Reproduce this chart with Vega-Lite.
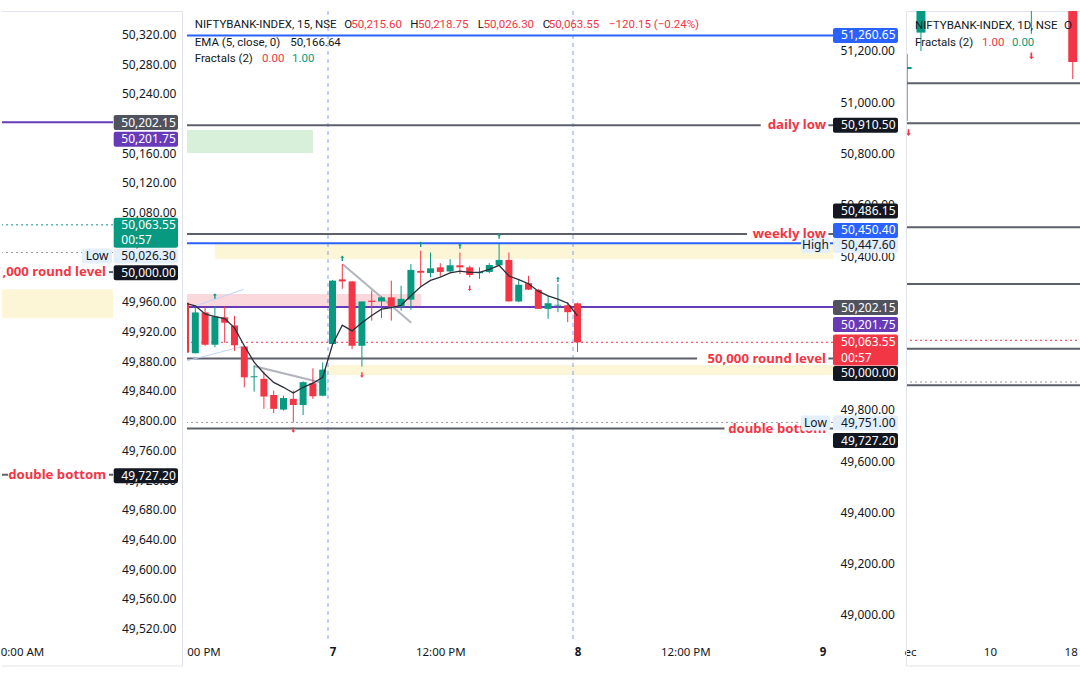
{
"$schema": "https://vega.github.io/schema/vega-lite/v6.json",
"background": "white",
"padding": {"left": 0, "top": 10, "right": 0, "bottom": 0},
"bounds": "flush",
"spacing": 74,
"config": {"view": {"stroke": null}, "font": "Noto Sans",
  "axis": {"grid": false, "ticks": false, "domain": false, "labelColor": "#131722", "labelFont": "Noto Sans", "labelFontSize": 12, "labelOverlap": false, "labelFlush": false}},
"resolve": {"scale": {"x": "independent", "y": "independent", "color": "independent"}},
"datasets": {
"candles": [
{"i":0,"o":50218,"h":50225,"l":50020,"c":50023},
{"i":1,"o":50021,"h":50200,"l":50020,"c":50180},
{"i":2,"o":50180,"h":50200,"l":50050,"c":50054},
{"i":3,"o":50054,"h":50205,"l":50044,"c":50164},
{"i":4,"o":50161,"h":50205,"l":50062,"c":50140},
{"i":5,"o":50129,"h":50167,"l":50030,"c":50052},
{"i":6,"o":50047,"h":50050,"l":49888,"c":49927},
{"i":7,"o":49927,"h":49972,"l":49871,"c":49931},
{"i":8,"o":49921,"h":49950,"l":49804,"c":49852},
{"i":9,"o":49858,"h":49875,"l":49787,"c":49804},
{"i":10,"o":49801,"h":49856,"l":49797,"c":49846},
{"i":11,"o":49843,"h":49875,"l":49751,"c":49819},
{"i":12,"o":49819,"h":49911,"l":49780,"c":49908},
{"i":13,"o":49904,"h":49962,"l":49843,"c":49853},
{"i":14,"o":49855,"h":49985,"l":49853,"c":49957},
{"i":15,"o":50057,"h":50307,"l":50055,"c":50304},
{"i":16,"o":50309,"h":50369,"l":50272,"c":50301},
{"i":17,"o":50301,"h":50303,"l":50037,"c":50050},
{"i":18,"o":50050,"h":50223,"l":49969,"c":50223},
{"i":19,"o":50226,"h":50265,"l":50148,"c":50221},
{"i":20,"o":50223,"h":50242,"l":50158,"c":50239},
{"i":21,"o":50239,"h":50304,"l":50148,"c":50203},
{"i":22,"o":50203,"h":50284,"l":50187,"c":50233},
{"i":23,"o":50230,"h":50369,"l":50191,"c":50346},
{"i":24,"o":50342,"h":50421,"l":50278,"c":50335},
{"i":25,"o":50334,"h":50414,"l":50317,"c":50352},
{"i":26,"o":50356,"h":50372,"l":50320,"c":50338},
{"i":27,"o":50340,"h":50388,"l":50336,"c":50364},
{"i":28,"o":50364,"h":50414,"l":50330,"c":50356},
{"i":29,"o":50356,"h":50362,"l":50317,"c":50326},
{"i":30,"o":50333,"h":50356,"l":50311,"c":50338},
{"i":31,"o":50338,"h":50372,"l":50333,"c":50365},
{"i":32,"o":50364,"h":50447.6,"l":50362,"c":50385},
{"i":33,"o":50385,"h":50414,"l":50223,"c":50223},
{"i":34,"o":50223,"h":50311,"l":50220,"c":50288},
{"i":35,"o":50294,"h":50323,"l":50268,"c":50269},
{"i":36,"o":50268,"h":50272,"l":50194,"c":50194},
{"i":37,"o":50194,"h":50245,"l":50155,"c":50216},
{"i":38,"o":50207,"h":50291,"l":50181,"c":50210},
{"i":39,"o":50208,"h":50220,"l":50142,"c":50181},
{"i":40,"o":50215.6,"h":50218.75,"l":50026.3,"c":50063.55}
],
"ema": [
{"i":-1,"v":50226},{"i":0,"v":50216},{"i":1,"v":50206},{"i":2,"v":50174},{"i":3,"v":50164},{"i":4,"v":50156},{"i":5,"v":50120},{"i":6,"v":50050},{"i":7,"v":49986},{"i":8,"v":49943},{"i":9,"v":49907},{"i":10,"v":49888},{"i":11,"v":49866},{"i":12,"v":49888},{"i":13,"v":49904},{"i":14,"v":49927},{"i":15,"v":50055},{"i":16,"v":50130},{"i":17,"v":50108},{"i":18,"v":50140},{"i":19,"v":50168},{"i":20,"v":50193},{"i":21,"v":50199},{"i":22,"v":50208},{"i":23,"v":50245},{"i":24,"v":50280},{"i":25,"v":50305},{"i":26,"v":50318},{"i":27,"v":50334},{"i":28,"v":50341},{"i":29,"v":50336},{"i":30,"v":50336},{"i":31,"v":50348},{"i":32,"v":50364},{"i":33,"v":50322},{"i":34,"v":50308},{"i":35,"v":50292},{"i":36,"v":50263},{"i":37,"v":50245},{"i":38,"v":50232},{"i":39,"v":50216},{"i":40,"v":50167}
],
"midZones": [
{"x1":0,"x2":13.0,"v1":50802,"v2":50891.7,"kind":"green"},
{"x1":3.0,"x2":80,"v1":50388.5,"v2":50447,"kind":"yellow"},
{"x1":0,"x2":24.06,"v1":50204.5,"v2":50252.4,"kind":"pink"},
{"x1":14.44,"x2":80,"v1":49936,"v2":49975,"kind":"yellow"}
],
"midLines": [
{"v":51260.65,"x1":0,"x2":80,"kind":"blue"},
{"v":50910.5,"x1":0,"x2":58.7,"kind":"gray"},
{"v":50910.5,"x1":65.6,"x2":80,"kind":"gray"},
{"v":50486.15,"x1":0,"x2":57.3,"kind":"gray"},
{"v":50486.15,"x1":65.6,"x2":80,"kind":"gray"},
{"v":50450.4,"x1":0,"x2":80,"kind":"blue"},
{"v":50201.75,"x1":0,"x2":80,"kind":"purple"},
{"v":50000,"x1":0,"x2":52.2,"kind":"gray"},
{"v":50000,"x1":65.6,"x2":80,"kind":"gray"},
{"v":49727.2,"x1":0,"x2":55.0,"kind":"gray"},
{"v":49727.2,"x1":65.6,"x2":80,"kind":"gray"}
],
"midDots": [{"v":50063.55,"kind":"red"},{"v":49751,"kind":"gray"}],
"midTrend": [
{"x1":16.04,"v1":50367.8,"x2":23.04,"v2":50140,"kind":"gray"},
{"x1":6.96,"v1":49971,"x2":13.93,"v2":49906,"kind":"gray"},
{"x1":0.97,"v1":50205,"x2":5.94,"v2":50270,"kind":"blue"},
{"x1":0.0,"v1":49990,"x2":5.94,"v2":50049,"kind":"blue"}
],
"midSessions": [{"i":14.54},{"i":39.54}],
"midMarks": [
{"i":3,"v":50244,"dir":"up"},{"i":16,"v":50391,"dir":"up"},{"i":18,"v":49936,"dir":"dn"},{"i":24,"v":50446,"dir":"up"},{"i":28,"v":50439,"dir":"up"},{"i":29,"v":50274,"dir":"dn"},{"i":32,"v":50478,"dir":"up"},{"i":11,"v":49721.5,"dir":"dn"},{"i":38,"v":50309,"dir":"up"}
],
"midNotes": [{"t":"daily low","v":50910.5},{"t":"weekly low","v":50486.15},{"t":"50,000 round level","v":50000},{"t":"double bottom","v":49727.2}],
"midHdr": [
{"t":"NIFTYBANK-INDEX, 15, NSE","x":0.94,"v":51301.3,"tone":"dark"},
{"t":"O","x":16.2,"v":51301.3,"tone":"dark"},
{"t":"50,215.60","x":16.92,"v":51301.3,"tone":"red"},
{"t":"H","x":22.94,"v":51301.3,"tone":"dark"},
{"t":"50,218.75","x":23.72,"v":51301.3,"tone":"red"},
{"t":"L","x":29.82,"v":51301.3,"tone":"dark"},
{"t":"50,026.30","x":30.41,"v":51301.3,"tone":"red"},
{"t":"C","x":36.45,"v":51301.3,"tone":"dark"},
{"t":"50,063.55","x":37.06,"v":51301.3,"tone":"red"},
{"t":"−120.15 (−0.24%)","x":43.21,"v":51301.3,"tone":"red"},
{"t":"EMA (5, close, 0)","x":0.94,"v":51229.9,"tone":"dark"},
{"t":"50,166.64","x":10.69,"v":51229.9,"tone":"dark"},
{"t":"Fractals (2)","x":0.94,"v":51169.8,"tone":"dark"},
{"t":"0.00","x":7.81,"v":51169.8,"tone":"red"},
{"t":"1.00","x":10.87,"v":51169.8,"tone":"green"}
],
"midBoxes": [{"t":"High","pos":50441.2},{"t":"Low","pos":49748.8}],
"midTags": [
{"label":"51,260.65","pos":51260.65,"kind":"blue"},
{"label":"50,910.50","pos":50910.5,"kind":"dark"},
{"label":"50,486.15","pos":50575.8,"kind":"dark"},
{"label":"50,450.40","pos":50499.7,"kind":"blue"},
{"label":"50,447.60","pos":50441.2,"kind":"light"},
{"label":"50,202.15","pos":50199.3,"kind":"gray"},
{"label":"50,201.75","pos":50133.0,"kind":"purple"},
{"label":"50,000.00","pos":49941.9,"kind":"dark"},
{"label":"49,751.00","pos":49748.8,"kind":"light"},
{"label":"49,727.20","pos":49680.5,"kind":"dark"}
],
"midBig": [{"pos":50033.5}],
"midBigT": [{"t":"50,063.55","pos":50064.7},{"t":"00:57","pos":50002.3}],
"leftZones": [{"x1":0,"x2":111,"v1":49938,"v2":49977,"kind":"yellow"}],
"leftLines": [
{"v":50201.75,"x1":0,"x2":111,"kind":"purple"},
{"v":50000,"x1":107,"x2":111,"kind":"gray"},
{"v":49727.2,"x1":0,"x2":6,"kind":"gray"},
{"v":49727.2,"x1":107,"x2":111,"kind":"gray"}
],
"leftDots": [{"v":50063.55,"kind":"green"},{"v":50026.3,"kind":"gray"}],
"leftNotes": [{"t":"50,000 round level","v":50000},{"t":"double bottom","v":49727.2}],
"leftBoxes": [{"t":"Low","pos":50021.6}],
"leftTags": [
{"label":"50,202.15","pos":50201.3,"kind":"gray"},
{"label":"50,201.75","pos":50178.8,"kind":"purple"},
{"label":"50,026.30","pos":50021.6,"kind":"light"},
{"label":"50,000.00","pos":49999.1,"kind":"dark"},
{"label":"49,727.20","pos":49725.7,"kind":"dark"}
],
"leftBig": [{"pos":50053}],
"leftBigT": [{"t":"50,063.55","pos":50063.3},{"t":"00:57","pos":50043.8}],
"leftFrame": [
{"x1":0,"x2":180.5,"v1":50350.7,"v2":50350.7},
{"x1":180.5,"x2":180.5,"v1":50350.7,"v2":49469.7},
{"x1":0,"x2":180.5,"v1":49469.7,"v2":49469.7}
],
"rightLines": [{"v":51990},{"v":51690},{"v":50910.5},{"v":50486.15},{"v":50000},{"v":49727.2}],
"rightDots": [{"v":50063.55,"kind":"red"},{"v":49751,"kind":"gray"}],
"rightCandles": [
{"i":-6,"o":52097,"h":52210,"l":51708,"c":52112},
{"i":-5,"o":52370,"h":52790,"l":52232,"c":52695},
{"i":3,"o":52900,"h":53650,"l":52360,"c":53580},
{"i":6,"o":52800,"h":52900,"l":52022,"c":52150}
],
"rightMarks": [{"i":3,"v":52195},{"i":-5.9,"v":51620}],
"rightHdr": [
{"t":"NIFTYBANK-INDEX, 1D, NSE","x":-5.43,"v":52419.6,"tone":"dark"},
{"t":"O","x":5.36,"v":52419.6,"tone":"dark"},
{"t":"Fractals (2)","x":-5.43,"v":52292,"tone":"dark"},
{"t":"1.00","x":-0.58,"v":52292,"tone":"red"},
{"t":"0.00","x":1.59,"v":52292,"tone":"green"}
],
"rightFrame": [
{"x1":-6.05,"x2":6.67,"v1":52528.3,"v2":52528.3},
{"x1":-6.05,"x2":-6.05,"v1":52528.3,"v2":47622.4},
{"x1":-6.05,"x2":6.67,"v1":47622.4,"v2":47622.4}
]
},
"hconcat": [
{
 "width": 111, "height": 630,
 "resolve": {"scale": {"color": "independent"}},
 "layer": [
  {"data": {"name": "leftZones"}, "mark": {"type": "rect", "clip": true},
   "encoding": {
    "x": {"field": "x1", "type": "quantitative", "title": null, "scale": {"domain": [0, 111], "nice": false, "zero": false, "padding": 0},
          "axis": {"title": null, "values": [20], "labelExpr": "'0:00 AM'", "labelPadding": 5, "labelFontSize": 11.5, "labelOverlap": false}},
    "x2": {"field": "x2"},
    "y": {"field": "v1", "type": "quantitative", "title": null, "scale": {"domain": [49503.4, 50351.4], "nice": false, "zero": false, "padding": 0},
          "axis": {"title": null, "orient": "right", "format": ",.2f", "labelPadding": 8.5, "labelOverlap": false, "tickCount": 50,
                   "values": [49520,49560,49600,49640,49680,49720,49760,49800,49840,49880,49920,49960,50000,50040,50080,50120,50160,50200,50240,50280,50320]}},
    "y2": {"field": "v2"},
    "color": {"field": "kind", "type": "nominal", "scale": {"domain": ["yellow"], "range": ["#fdf6d6"]}, "legend": null}
   }},
  {"data": {"name": "leftFrame"}, "mark": {"type": "rule", "clip": false, "color": "#e0e3eb", "strokeWidth": 1},
   "encoding": {"x": {"field": "x1", "type": "quantitative"}, "x2": {"field": "x2"}, "y": {"field": "v1", "type": "quantitative"}, "y2": {"field": "v2"}}},
  {"data": {"name": "leftDots"}, "mark": {"type": "rule", "clip": true, "strokeDash": [2, 3], "strokeWidth": 1},
   "encoding": {"y": {"field": "v", "type": "quantitative"},
    "color": {"field": "kind", "type": "nominal", "scale": {"domain": ["green", "gray"], "range": ["#089981", "#9598a1"]}, "legend": null}}},
  {"data": {"name": "leftLines"}, "mark": {"type": "rule", "clip": true, "strokeWidth": 2},
   "encoding": {"x": {"field": "x1", "type": "quantitative"}, "x2": {"field": "x2"}, "y": {"field": "v", "type": "quantitative"},
    "color": {"field": "kind", "type": "nominal", "scale": {"domain": ["gray", "purple"], "range": ["#5d606b", "#673ab7"]}, "legend": null}}},
  {"data": {"name": "leftNotes"}, "mark": {"type": "text", "clip": true, "align": "right", "baseline": "middle", "fontSize": 13.2, "fontWeight": "bold", "color": "#f23645"},
   "encoding": {"x": {"datum": 104, "type": "quantitative"}, "y": {"field": "v", "type": "quantitative"}, "text": {"field": "t"}}},
  {"data": {"name": "leftBoxes"}, "mark": {"type": "bar", "orient": "horizontal", "size": 15, "clip": false, "color": "#e3effd", "cornerRadius": 2},
   "encoding": {"x": {"datum": 80, "type": "quantitative"}, "x2": {"datum": 110}, "y": {"field": "pos", "type": "quantitative"}}},
  {"data": {"name": "leftBoxes"}, "mark": {"type": "text", "clip": false, "align": "center", "baseline": "middle", "fontSize": 12, "color": "#131722"},
   "encoding": {"x": {"datum": 95, "type": "quantitative"}, "y": {"field": "pos", "type": "quantitative"}, "text": {"field": "t"}}},
  {"data": {"name": "leftTags"}, "mark": {"type": "bar", "orient": "horizontal", "size": 15, "clip": false, "cornerRadius": 2},
   "encoding": {"x": {"datum": 111.7, "type": "quantitative"}, "x2": {"datum": 176}, "y": {"field": "pos", "type": "quantitative"},
    "color": {"field": "kind", "type": "nominal", "scale": {"domain": ["blue","dark","gray","purple","light","red","green"], "range": ["#2962ff","#131722","#50535e","#673ab7","#e3effd","#f23645","#089981"]}, "legend": null}}},
  {"data": {"name": "leftTags"}, "mark": {"type": "text", "clip": false, "align": "left", "baseline": "middle", "fontSize": 12},
   "encoding": {"x": {"datum": 119.3, "type": "quantitative"}, "y": {"field": "pos", "type": "quantitative"}, "text": {"field": "label"},
    "color": {"condition": {"test": "datum.kind == 'light'", "value": "#131722"}, "value": "#ffffff"}}},
  {"data": {"name": "leftBig"}, "mark": {"type": "bar", "orient": "horizontal", "size": 30, "clip": false, "cornerRadius": 2, "color": "#089981"},
   "encoding": {"x": {"datum": 111.7, "type": "quantitative"}, "x2": {"datum": 176}, "y": {"field": "pos", "type": "quantitative"}}},
  {"data": {"name": "leftBigT"}, "mark": {"type": "text", "clip": false, "align": "left", "baseline": "middle", "fontSize": 12, "color": "#ffffff"},
   "encoding": {"x": {"datum": 119.3, "type": "quantitative"}, "y": {"field": "pos", "type": "quantitative"}, "text": {"field": "t"}}}
 ]
},
{
 "width": 646, "height": 630,
 "resolve": {"scale": {"color": "independent", "shape": "independent", "strokeWidth": "independent"}},
 "layer": [
  {"data": {"name": "midZones"}, "mark": {"type": "rect", "clip": true},
   "encoding": {
    "x": {"field": "x1", "type": "quantitative", "title": null, "scale": {"domain": [0.153, 66.07], "nice": false, "zero": false, "padding": 0},
          "axis": {"title": null, "values": [1.84, 15, 26, 40, 51, 65], "labelPadding": 5, "labelFontSize": 11.5, "labelOverlap": false, "tickCount": 50,
                   "labelExpr": "datum.value < 2 ? '00 PM' : datum.value == 15 ? '7' : datum.value == 40 ? '8' : datum.value == 65 ? '9' : '12:00 PM'",
                   "labelFontWeight": {"condition": {"test": "datum.value == 15 || datum.value == 40 || datum.value == 65", "value": "bold"}, "value": "normal"}}},
    "x2": {"field": "x2"},
    "y": {"field": "v1", "type": "quantitative", "title": null, "scale": {"domain": [48898.4, 51355.9], "nice": false, "zero": false, "padding": 0},
          "axis": {"title": null, "orient": "right", "format": ",.2f", "labelPadding": 7, "labelOverlap": false, "tickCount": 50,
                   "values": [49000,49200,49400,49600,49800,50000,50200,50400,50600,50800,51000,51200]}},
    "y2": {"field": "v2"},
    "color": {"field": "kind", "type": "nominal", "scale": {"domain": ["green", "yellow", "pink"], "range": ["#d8efd9", "#fdf6d6", "#fbd8db"]}, "legend": null}
   }},
  {"mark": {"type": "rect", "clip": false, "fill": "transparent", "stroke": "#e0e3eb", "strokeWidth": 1, "cornerRadius": 4},
   "encoding": {"x": {"datum": 0.05, "type": "quantitative"}, "x2": {"datum": 73.0}, "y": {"datum": 51354.0, "type": "quantitative"}, "y2": {"datum": 48800.9}}},
  {"data": {"name": "midSessions"}, "mark": {"type": "rule", "clip": true, "color": "#2962ff", "opacity": 0.6, "strokeDash": [4, 4], "strokeWidth": 1},
   "encoding": {"x": {"field": "i", "type": "quantitative"}}},
  {"data": {"name": "midDots"}, "mark": {"type": "rule", "clip": true, "strokeDash": [2, 3], "strokeWidth": 1},
   "encoding": {"y": {"field": "v", "type": "quantitative"},
    "color": {"field": "kind", "type": "nominal", "scale": {"domain": ["red", "gray"], "range": ["#f23645", "#9598a1"]}, "legend": null}}},
  {"data": {"name": "midLines"}, "mark": {"type": "rule", "clip": true, "strokeWidth": 2},
   "encoding": {"x": {"field": "x1", "type": "quantitative"}, "x2": {"field": "x2"}, "y": {"field": "v", "type": "quantitative"},
    "color": {"field": "kind", "type": "nominal", "scale": {"domain": ["blue", "gray", "purple"], "range": ["#2962ff", "#5d606b", "#673ab7"]}, "legend": null}}},
  {"data": {"name": "midTrend"}, "mark": {"type": "rule", "clip": true},
   "encoding": {"x": {"field": "x1", "type": "quantitative"}, "x2": {"field": "x2"}, "y": {"field": "v1", "type": "quantitative"}, "y2": {"field": "v2"},
    "color": {"field": "kind", "type": "nominal", "scale": {"domain": ["gray", "blue"], "range": ["#b2b5be", "#bcd4fb"]}, "legend": null},
    "strokeWidth": {"field": "kind", "type": "nominal", "scale": {"domain": ["gray", "blue"], "range": [2, 1]}, "legend": null}}},
  {"data": {"name": "candles"}, "mark": {"type": "rule", "clip": true, "strokeWidth": 1},
   "encoding": {"x": {"field": "i", "type": "quantitative"}, "y": {"field": "l", "type": "quantitative"}, "y2": {"field": "h"},
    "color": {"condition": {"test": "datum.c >= datum.o", "value": "#089981"}, "value": "#f23645"}}},
  {"data": {"name": "candles"}, "mark": {"type": "bar", "orient": "vertical", "size": 7, "clip": true},
   "encoding": {"x": {"field": "i", "type": "quantitative"}, "y": {"field": "o", "type": "quantitative"}, "y2": {"field": "c"},
    "color": {"condition": {"test": "datum.c >= datum.o", "value": "#089981"}, "value": "#f23645"}}},
  {"data": {"name": "ema"}, "mark": {"type": "line", "clip": true, "color": "#2a2e39", "strokeWidth": 1.3},
   "encoding": {"x": {"field": "i", "type": "quantitative"}, "y": {"field": "v", "type": "quantitative"}}},
  {"data": {"name": "midMarks"}, "mark": {"type": "point", "clip": true, "filled": true, "size": 30, "opacity": 1},
   "encoding": {"x": {"field": "i", "type": "quantitative"}, "y": {"field": "v", "type": "quantitative"},
    "shape": {"field": "dir", "type": "nominal", "scale": {"domain": ["up", "dn"], "range": ["M0,-1L0.7,-0.2L0.25,-0.2L0.25,1L-0.25,1L-0.25,-0.2L-0.7,-0.2Z", "M0,1L0.7,0.2L0.25,0.2L0.25,-1L-0.25,-1L-0.25,0.2L-0.7,0.2Z"]}, "legend": null},
    "color": {"field": "dir", "type": "nominal", "scale": {"domain": ["up", "dn"], "range": ["#089981", "#f23645"]}, "legend": null}}},
  {"data": {"name": "midNotes"}, "mark": {"type": "text", "clip": true, "align": "right", "baseline": "middle", "fontSize": 13.2, "fontWeight": "bold", "color": "#f23645"},
   "encoding": {"x": {"datum": 65.36, "type": "quantitative"}, "y": {"field": "v", "type": "quantitative"}, "text": {"field": "t"}}},
  {"data": {"name": "midHdr"}, "mark": {"type": "text", "clip": true, "align": "left", "baseline": "middle", "fontSize": 11.5, "font": "Roboto"},
   "encoding": {"x": {"field": "x", "type": "quantitative"}, "y": {"field": "v", "type": "quantitative"}, "text": {"field": "t"},
    "color": {"field": "tone", "type": "nominal", "scale": {"domain": ["dark", "red", "green"], "range": ["#131722", "#f23645", "#089981"]}, "legend": null}}},
  {"data": {"name": "midBoxes"}, "mark": {"type": "bar", "orient": "horizontal", "size": 15, "clip": false, "color": "#e3effd", "cornerRadius": 2},
   "encoding": {"x": {"datum": 62.8, "type": "quantitative"}, "x2": {"datum": 65.76}, "y": {"field": "pos", "type": "quantitative"}}},
  {"data": {"name": "midBoxes"}, "mark": {"type": "text", "clip": false, "align": "center", "baseline": "middle", "fontSize": 12, "color": "#131722"},
   "encoding": {"x": {"datum": 64.28, "type": "quantitative"}, "y": {"field": "pos", "type": "quantitative"}, "text": {"field": "t"}}},
  {"data": {"name": "midTags"}, "mark": {"type": "bar", "orient": "horizontal", "size": 15, "clip": false, "cornerRadius": 2},
   "encoding": {"x": {"datum": 66.07, "type": "quantitative"}, "x2": {"datum": 72.7}, "y": {"field": "pos", "type": "quantitative"},
    "color": {"field": "kind", "type": "nominal", "scale": {"domain": ["blue","dark","gray","purple","light","red","green"], "range": ["#2962ff","#131722","#50535e","#673ab7","#e3effd","#f23645","#089981"]}, "legend": null}}},
  {"data": {"name": "midTags"}, "mark": {"type": "text", "clip": false, "align": "left", "baseline": "middle", "fontSize": 12},
   "encoding": {"x": {"datum": 66.89, "type": "quantitative"}, "y": {"field": "pos", "type": "quantitative"}, "text": {"field": "label"},
    "color": {"condition": {"test": "datum.kind == 'light'", "value": "#131722"}, "value": "#ffffff"}}},
  {"data": {"name": "midBig"}, "mark": {"type": "bar", "orient": "horizontal", "size": 31, "clip": false, "cornerRadius": 2, "color": "#f23645"},
   "encoding": {"x": {"datum": 66.07, "type": "quantitative"}, "x2": {"datum": 72.7}, "y": {"field": "pos", "type": "quantitative"}}},
  {"data": {"name": "midBigT"}, "mark": {"type": "text", "clip": false, "align": "left", "baseline": "middle", "fontSize": 12, "color": "#ffffff"},
   "encoding": {"x": {"datum": 66.89, "type": "quantitative"}, "y": {"field": "pos", "type": "quantitative"}, "text": {"field": "t"}}}
 ]
},
{
 "width": 175, "height": 630,
 "resolve": {"scale": {"color": "independent"}},
 "layer": [
  {"data": {"name": "rightLines"}, "mark": {"type": "rule", "clip": true, "strokeWidth": 2, "color": "#5d606b"},
   "encoding": {
    "x": {"datum": -6.01, "type": "quantitative", "title": null, "scale": {"domain": [-6.01, 6.67], "nice": false, "zero": false, "padding": 0},
          "axis": {"title": null, "values": [-5.8, 0, 5.85], "labelPadding": 5, "labelFontSize": 11.5, "labelOverlap": false, "tickCount": 50,
                   "labelExpr": "datum.value < -5 ? 'ec' : datum.value == 0 ? '10' : '18'"}},
    "x2": {"datum": 6.67},
    "y": {"field": "v", "type": "quantitative", "title": null, "scale": {"domain": [47809.6, 52532], "nice": false, "zero": false, "padding": 0}, "axis": null}
   }},
  {"data": {"name": "rightFrame"}, "mark": {"type": "rule", "clip": false, "color": "#e0e3eb", "strokeWidth": 1},
   "encoding": {"x": {"field": "x1", "type": "quantitative"}, "x2": {"field": "x2"}, "y": {"field": "v1", "type": "quantitative"}, "y2": {"field": "v2"}}},
  {"data": {"name": "rightDots"}, "mark": {"type": "rule", "clip": true, "strokeDash": [2, 3], "strokeWidth": 1},
   "encoding": {"y": {"field": "v", "type": "quantitative"},
    "color": {"field": "kind", "type": "nominal", "scale": {"domain": ["red", "gray"], "range": ["#f23645", "#9598a1"]}, "legend": null}}},
  {"data": {"name": "rightCandles"}, "mark": {"type": "rule", "clip": true, "strokeWidth": 1},
   "encoding": {"x": {"field": "i", "type": "quantitative"}, "y": {"field": "l", "type": "quantitative"}, "y2": {"field": "h"},
    "color": {"condition": {"test": "datum.c >= datum.o", "value": "#089981"}, "value": "#f23645"}}},
  {"data": {"name": "rightCandles"}, "mark": {"type": "bar", "orient": "vertical", "size": 9, "clip": true},
   "encoding": {"x": {"field": "i", "type": "quantitative"}, "y": {"field": "o", "type": "quantitative"}, "y2": {"field": "c"},
    "color": {"condition": {"test": "datum.c >= datum.o", "value": "#089981"}, "value": "#f23645"}}},
  {"data": {"name": "rightMarks"}, "mark": {"type": "point", "clip": true, "filled": true, "size": 45, "opacity": 1, "color": "#f23645",
    "shape": "M0,1L0.7,0.2L0.25,0.2L0.25,-1L-0.25,-1L-0.25,0.2L-0.7,0.2Z"},
   "encoding": {"x": {"field": "i", "type": "quantitative"}, "y": {"field": "v", "type": "quantitative"}}},
  {"data": {"name": "rightHdr"}, "mark": {"type": "text", "clip": true, "align": "left", "baseline": "middle", "fontSize": 11.5, "font": "Roboto"},
   "encoding": {"x": {"field": "x", "type": "quantitative"}, "y": {"field": "v", "type": "quantitative"}, "text": {"field": "t"},
    "color": {"field": "tone", "type": "nominal", "scale": {"domain": ["dark", "red", "green"], "range": ["#131722", "#f23645", "#089981"]}, "legend": null}}}
 ]
}
]
}
